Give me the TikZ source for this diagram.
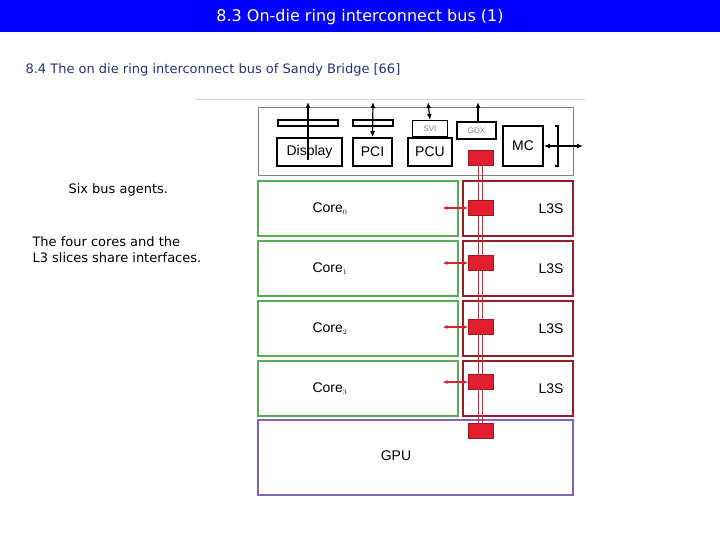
\documentclass[tikz,border=0pt]{standalone}
\usepackage{fontspec}
\setmainfont{DejaVu Sans}
\newfontfamily\arialfont{Liberation Sans}
\usetikzlibrary{arrows.meta}
\definecolor{titleblue}{RGB}{0,0,255}
\definecolor{subblue}{RGB}{40,50,120}
\definecolor{coregreen}{RGB}{90,170,90}
\definecolor{lthreered}{RGB}{150,30,40}
\definecolor{gpupurple}{RGB}{130,100,180}
\definecolor{ringred}{RGB}{225,30,45}
\tikzset{
	unit/.style={draw=black, line width=1.6pt},
	core/.style={draw=coregreen, line width=1.5pt},
	slice/.style={draw=lthreered, line width=1.5pt},
	stop/.style={fill=ringred, draw=ringred!70!black},
	lbl/.style={font=\arialfont\fontsize{14}{16}\selectfont},
	body/.style={font=\fontsize{13}{16}\selectfont},
	tip/.style={-{Latex[length=6pt,width=5pt]}},
	tips/.style={{Latex[length=6pt,width=5pt]}-{Latex[length=6pt,width=5pt]}},
}
\begin{document}
\begin{tikzpicture}[x=1pt,y=-1pt]
	\useasboundingbox (0,0) rectangle (720,540);
	% title and text
	\fill[titleblue] (0,0) rectangle (720,32);
	\node[white, font=\fontsize{16}{18}\selectfont] (title) at (360,17) {8.3 On-die ring interconnect bus (1)};
	\node[anchor=west, text=subblue, body] (sub) at (22,70) {8.4 The on die ring interconnect bus of Sandy Bridge [66]};
	\node[anchor=west, body] (agents) at (65,190) {Six bus agents.};
	\node[anchor=north west, align=left, body] (share) at (29,233) {The four cores and the\\L3 slices share interfaces.};
	\draw[gray!30, line width=1pt] (195,100) -- (585,100);

	% system agent
	\draw[gray, line width=1pt] (258,108) rectangle (573,176);
	\draw[line width=1.2pt] (278,120) rectangle (338,126);
	\draw[line width=1.2pt] (353,120) rectangle (393,126);
	\node[unit, lbl, minimum width=65pt, minimum height=28pt, inner sep=0pt] (disp) at (309.5,152) {Display};
	\node[unit, lbl, minimum width=39pt, minimum height=28pt, inner sep=0pt] (pci) at (372.5,152) {PCI};
	\node[unit, lbl, minimum width=44pt, minimum height=28pt, inner sep=0pt] (pcu) at (430,152) {PCU};
	\node[draw, line width=1.2pt, font=\arialfont\footnotesize, text=gray, minimum width=35pt, minimum height=16pt, inner sep=0pt, anchor=south] (svi) at (pcu.north) {SVI};
	\node[draw, line width=1.2pt, font=\arialfont\footnotesize, text=gray, minimum width=39pt, minimum height=17pt, inner sep=0pt] (gdx) at (476.5,130.5) {GDX};
	\node[unit, lbl, minimum width=40pt, minimum height=40pt, inner sep=0pt] (mc) at (523,146) {MC};
	\draw[line width=1.2pt] (555,126) -- (558,126) -- (558,166) -- (555,166);
	\coordinate (dispTop) at (308,102);
	\coordinate (pciTop) at (373,102);
	\coordinate (sviTop) at (428,102);
	\coordinate (gdxTop) at (478,102);
	\coordinate (mcOut) at (583,146);
	\draw[tip, line width=1.2pt] (308,160) -- (dispTop);
	\draw[tips, line width=1.2pt] (pci.north) -- (pciTop);
	\draw[tips, line width=1.2pt] (svi.north) -- (sviTop);
	\draw[tip, line width=1.2pt] (gdx.north -| gdxTop) -- (gdxTop);
	\draw[tips, line width=1.2pt] (mc.east) -- (mcOut);

	% cores, L3 slices, gpu
	\foreach \i/\y in {0/181, 1/241, 2/301, 3/361} {
		\draw[core] (258,\y) rectangle (458,\y+55);
		\draw[slice] (463,\y) rectangle (573,\y+55);
		\node[lbl] (core\i) at (330,\y+28) {Core$_{\scriptscriptstyle\i}$};
		\node[lbl] (l3s\i) at (551,\y+28) {L3S};
	}
	\draw[gpupurple, line width=1.5pt] (258,420) rectangle (573,495);
	\node[lbl] (gpu) at (396,456) {GPU};

	% ring
	\node[stop, minimum width=25pt, minimum height=15pt, inner sep=0pt] (stopSA) at (480.5,158) {};
	\node[stop, minimum width=25pt, minimum height=15pt, inner sep=0pt] (stopGPU) at (480.5,431) {};
	\draw[ringred, line width=1.2pt] ([xshift=-2pt]stopSA.center) -- ([xshift=-2pt]stopGPU.center);
	\draw[ringred, line width=1.2pt] ([xshift=2pt]stopSA.center) -- ([xshift=2pt]stopGPU.center);
	\foreach \i/\y in {0/208, 1/263, 2/327, 3/382} {
		\node[stop, minimum width=25pt, minimum height=15pt, inner sep=0pt] (stop\i) at (480.5,\y) {};
		\coordinate (tap\i) at (443,\y);
		\draw[ringred, line width=1.5pt, {Stealth[length=5pt]}-{Stealth[length=5pt]}] (stop\i.west) -- (tap\i);
	}
	\node[stop, minimum width=25pt, minimum height=15pt, inner sep=0pt] at (stopSA) {};
	\node[stop, minimum width=25pt, minimum height=15pt, inner sep=0pt] at (stopGPU) {};
\end{tikzpicture}
\end{document}
